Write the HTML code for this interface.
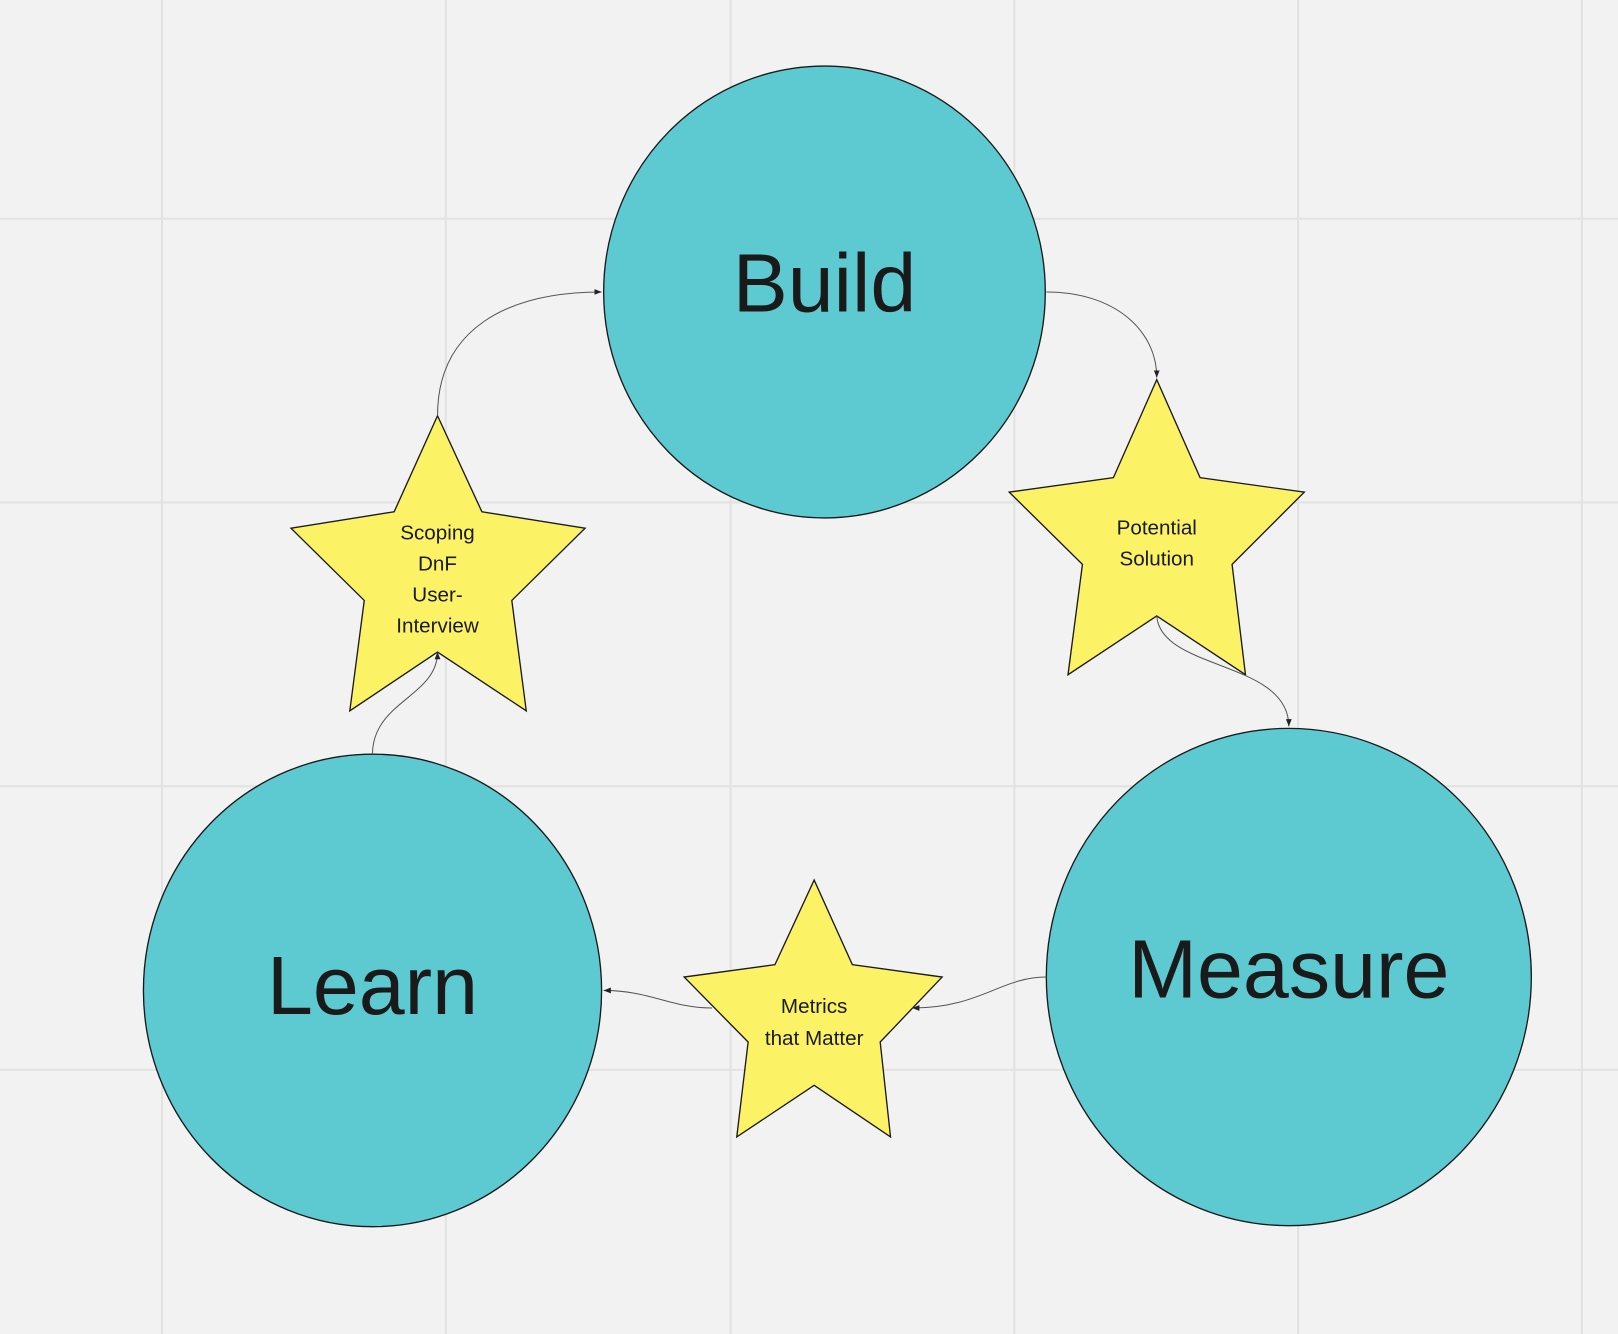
<!DOCTYPE html>
<html><head><meta charset="utf-8"><style>
html,body{margin:0;padding:0;background:#f2f2f2;}
svg{display:block;}
text{font-family:"Liberation Sans","DejaVu Sans",sans-serif;fill:#1a1a1a;}
</style></head><body>
<svg width="1618" height="1334" viewBox="0 0 1568 1293" preserveAspectRatio="none" xmlns="http://www.w3.org/2000/svg">
<defs>
<marker id="a" viewBox="0 0 10 10" refX="10" refY="5" markerWidth="7" markerHeight="7" orient="auto-start-reverse">
<path d="M0,1 L10,5 L0,9 z" fill="#222"/></marker>
</defs>
<rect width="1568" height="1293" fill="#f2f2f2"/>
<g stroke="#e2e2e2" stroke-width="2">
<line x1="157" y1="0" x2="157" y2="1293"/><line x1="432" y1="0" x2="432" y2="1293"/>
<line x1="708" y1="0" x2="708" y2="1293"/><line x1="983" y1="0" x2="983" y2="1293"/>
<line x1="1258" y1="0" x2="1258" y2="1293"/><line x1="1533" y1="0" x2="1533" y2="1293"/>
<line x1="0" y1="212" x2="1568" y2="212"/><line x1="0" y1="487" x2="1568" y2="487"/>
<line x1="0" y1="762" x2="1568" y2="762"/><line x1="0" y1="1037" x2="1568" y2="1037"/>
</g>
<g fill="#5dc9d1" stroke="#1a1a1a" stroke-width="1.3">
<ellipse cx="799" cy="283" rx="214" ry="219"/>
<ellipse cx="361" cy="960" rx="222" ry="229"/>
<ellipse cx="1249" cy="947" rx="235" ry="241"/>
</g>
<g fill="#fbf266" stroke="#1a1a1a" stroke-width="1.3">
<polygon points="424,403 467,496 567,512 496,582 510,689 424,632 339,689 353,582 282,512 382,496"/>
<polygon points="1121,368 1163,463 1264,477 1194,547 1207,654 1121,597 1035,654 1049,547 978,477 1079,463"/>
<polygon points="789,853 826,935 913,947 853,1010 863,1102 789,1052 714,1102 725,1010 663,947 751,935"/>
</g>
<g fill="none" stroke="#555" stroke-width="1">
<path d="M1014,283 C1080,283 1121,320 1121,366" marker-end="url(#a)"/>
<path d="M1121,597 C1125,650 1249,640 1249,704" marker-end="url(#a)"/>
<path d="M1014,947 C970,947 950,977 884,977" marker-end="url(#a)"/>
<path d="M690,977 C650,977 630,960 585,960" marker-end="url(#a)"/>
<path d="M361,731 C361,680 424,675 424,632" marker-end="url(#a)"/>
<path d="M424,403 C424,320 490,283 583,283" marker-end="url(#a)"/>
</g>
<g text-anchor="middle">
<text x="799" y="302" font-size="80">Build</text>
<text x="361" y="983" font-size="80">Learn</text>
<text x="1249" y="967" font-size="80">Measure</text>
<g font-size="20">
<text x="424" y="523">Scoping</text><text x="424" y="553">DnF</text>
<text x="424" y="583">User-</text><text x="424" y="613">Interview</text>
<text x="1121" y="518">Potential</text><text x="1121" y="548">Solution</text>
<text x="789" y="982">Metrics</text><text x="789" y="1013">that Matter</text>
</g>
</g>
</svg>
</body></html>
